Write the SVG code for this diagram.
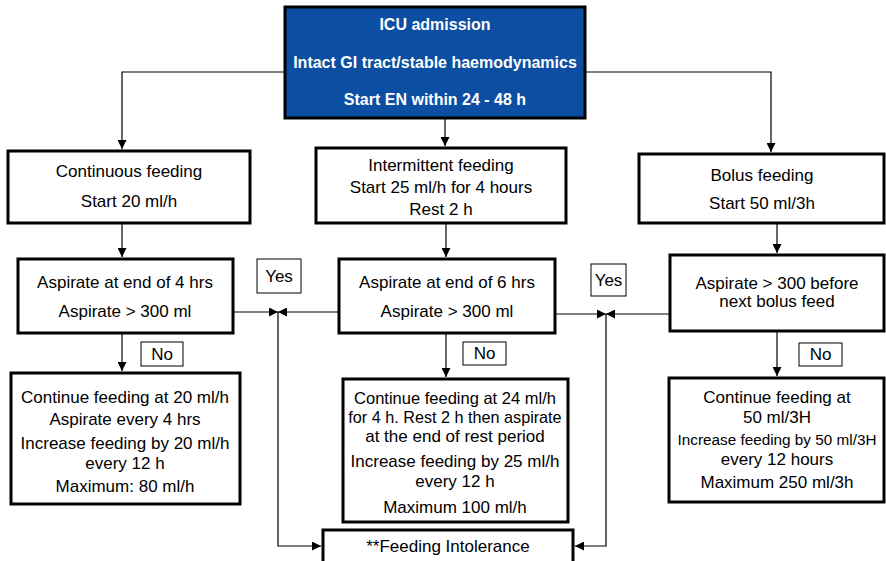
<svg xmlns="http://www.w3.org/2000/svg" width="886" height="561" viewBox="0 0 886 561">
<style>
.box{fill:#fff;stroke:#000;stroke-width:3}
.top{fill:#0b4ea2;stroke:#000;stroke-width:3}
.lab{fill:#fff;stroke:#000;stroke-width:1}
.t{font-family:"Liberation Sans",Arial,sans-serif;font-size:17px;fill:#000;text-anchor:middle}
.tb{font-family:"Liberation Sans",Arial,sans-serif;font-size:16px;font-weight:bold;fill:#fff;text-anchor:middle}
.c{fill:none;stroke:#000;stroke-width:1.2}
</style>
<defs>
<marker id="ah" viewBox="0 0 10 10" refX="10" refY="5" markerWidth="9" markerHeight="9" markerUnits="userSpaceOnUse" orient="auto"><path d="M0,0 L10,5 L0,10 z" fill="#000"/></marker>
</defs>
<rect width="886" height="561" fill="#fff"/>
<g id="connectors">
<path class="c" d="M285,72 H122 V149" marker-end="url(#ah)"/>
<path class="c" d="M445,118 V146" marker-end="url(#ah)"/>
<path class="c" d="M585,72 H771 V152" marker-end="url(#ah)"/>
<path class="c" d="M122,223 V257" marker-end="url(#ah)"/>
<path class="c" d="M446,223 V257" marker-end="url(#ah)"/>
<path class="c" d="M777,223 V253" marker-end="url(#ah)"/>
<path class="c" d="M233,312 H278" marker-end="url(#ah)"/>
<path class="c" d="M339,312 H278" marker-end="url(#ah)"/>
<path class="c" d="M278,312 V546 H321" marker-end="url(#ah)"/>
<path class="c" d="M555,314 H606" marker-end="url(#ah)"/>
<path class="c" d="M670,314 H606" marker-end="url(#ah)"/>
<path class="c" d="M606,314 V546 H575" marker-end="url(#ah)"/>
<path class="c" d="M122,333 V371" marker-end="url(#ah)"/>
<path class="c" d="M446,333 V377" marker-end="url(#ah)"/>
<path class="c" d="M777,331 V376" marker-end="url(#ah)"/>
</g>
<g id="icu">
<rect class="top" x="285" y="7" width="300" height="111"/>
<text class="tb" x="435" y="30">ICU admission</text>
<text class="tb" x="435" y="68">Intact GI tract/stable haemodynamics</text>
<text class="tb" x="435" y="105">Start EN within 24 - 48 h</text>
</g>
<g id="continuous">
<rect class="box" x="8" y="151" width="242" height="72"/>
<text class="t" x="129" y="177">Continuous feeding</text>
<text class="t" x="129" y="207">Start 20 ml/h</text>
</g>
<g id="intermittent">
<rect class="box" x="316" y="148" width="250" height="75"/>
<text class="t" x="441" y="171">Intermittent feeding</text>
<text class="t" x="441" y="193">Start 25 ml/h for 4 hours</text>
<text class="t" x="441" y="215">Rest 2 h</text>
</g>
<g id="bolus">
<rect class="box" x="639" y="154" width="245" height="69"/>
<text class="t" x="762" y="181">Bolus feeding</text>
<text class="t" x="762" y="209">Start 50 ml/3h</text>
</g>
<g id="asp1">
<rect class="box" x="18" y="259" width="215" height="74"/>
<text class="t" x="125" y="288">Aspirate at end of 4 hrs</text>
<text class="t" x="125" y="317">Aspirate &gt; 300 ml</text>
</g>
<g id="asp2">
<rect class="box" x="339" y="259" width="216" height="74"/>
<text class="t" x="447" y="288">Aspirate at end of 6 hrs</text>
<text class="t" x="447" y="317">Aspirate &gt; 300 ml</text>
</g>
<g id="asp3">
<rect class="box" x="670" y="255" width="214" height="76"/>
<text class="t" x="777" y="289">Aspirate &gt; 300 before</text>
<text class="t" x="777" y="307">next bolus feed</text>
</g>
<g id="yes1">
<rect class="lab" x="257" y="259" width="44" height="34"/>
<text class="t" x="279" y="282">Yes</text>
</g>
<g id="yes2">
<rect class="lab" x="591" y="264" width="35" height="32"/>
<text class="t" x="608.5" y="286">Yes</text>
</g>
<g id="no1">
<rect class="lab" x="141" y="342" width="42" height="24"/>
<text class="t" x="162" y="360">No</text>
</g>
<g id="no2">
<rect class="lab" x="463" y="342" width="43" height="23"/>
<text class="t" x="484.5" y="359">No</text>
</g>
<g id="no3">
<rect class="lab" x="799" y="343" width="43" height="23"/>
<text class="t" x="820.5" y="360">No</text>
</g>
<g id="cont1">
<rect class="box" x="11" y="373" width="229" height="131"/>
<text class="t" x="125" y="403">Continue feeding at 20 ml/h</text>
<text class="t" x="125" y="425">Aspirate every 4 hrs</text>
<text class="t" x="125" y="449">Increase feeding by 20 ml/h</text>
<text class="t" x="125" y="469">every 12 h</text>
<text class="t" x="125" y="492">Maximum: 80 ml/h</text>
</g>
<g id="cont2">
<rect class="box" x="343" y="379" width="225" height="143"/>
<text class="t" x="455" y="404" style="font-size:16.5px">Continue feeding at 24 ml/h</text>
<text class="t" x="455" y="423" style="font-size:16.2px">for 4 h. Rest 2 h then aspirate</text>
<text class="t" x="455" y="442">at the end of rest period</text>
<text class="t" x="455" y="467">Increase feeding by 25 ml/h</text>
<text class="t" x="455" y="487">every 12 h</text>
<text class="t" x="455" y="513">Maximum 100 ml/h</text>
</g>
<g id="cont3">
<rect class="box" x="669" y="378" width="215" height="124"/>
<text class="t" x="777" y="403">Continue feeding at</text>
<text class="t" x="777" y="423">50 ml/3H</text>
<text class="t" x="777" y="445" style="font-size:15.3px">Increase feeding by 50 ml/3H</text>
<text class="t" x="777" y="465">every 12 hours</text>
<text class="t" x="777" y="488">Maximum 250 ml/3h</text>
</g>
<g id="intolerance">
<rect class="box" x="323" y="530" width="250" height="40"/>
<text class="t" x="448" y="552">**Feeding Intolerance</text>
</g>
</svg>
